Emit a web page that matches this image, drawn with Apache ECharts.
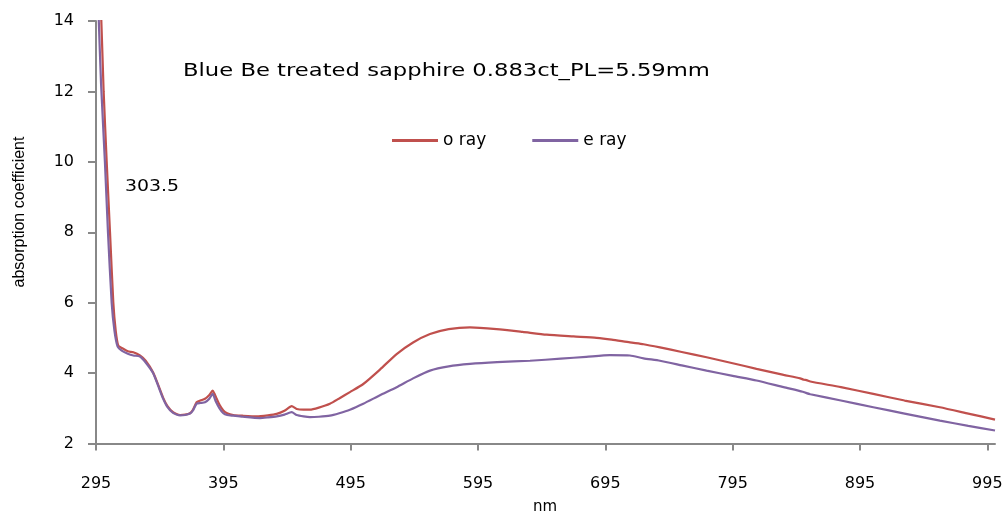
<!DOCTYPE html>
<html>
<head>
<meta charset="utf-8">
<script src="https://cdn.jsdelivr.net/npm/echarts@6/dist/echarts.min.js"></script>
<style>html,body{margin:0;padding:0;background:#fff;}#c{width:1007px;height:516px;}</style>
</head>
<body>
<div id="c"></div>
<script>
const chartTitle = 'Blue Be treated sapphire 0.883ct_PL=5.59mm';
const xAxisName = 'nm';
const yAxisName = 'absorption coefficient';
const xTicks = [295, 395, 495, 595, 695, 795, 895, 995];
const yTicks = [2, 4, 6, 8, 10, 12, 14];
const seriesNames = ['o ray', 'e ray'];
const annotation = '303.5';

const oRayNm = [296,299,301,303.4,306,308.6,310.5,312.5,316,320,324.3,329.5,334,339.8,344,347.6,351,355.5,361,365,368.8,371,374,377,380.6,384,386.6,388,389.8,392,395,398,402.8,410,421.2,430,436.9,443,448.7,452.6,458,463,470,478.7,486,494.4,504.9,518,531.1,544,557.3,572,588.7,609.6,630,648.9,670,688.1,700,714.3,725,737.9,755,774.5,795,813.7,835,848,851,853,856,880,905.4,930,957.7,980,1001];
const oRayValues = [16.5,14.2,12,10,8,6,5.2,4.78,4.7,4.62,4.59,4.5,4.35,4.02,3.65,3.31,3.07,2.89,2.81,2.82,2.86,2.95,3.17,3.22,3.27,3.38,3.5,3.42,3.27,3.1,2.94,2.86,2.81,2.79,2.77,2.8,2.84,2.93,3.06,2.98,2.96,2.96,3.02,3.13,3.28,3.46,3.69,4.1,4.54,4.87,5.11,5.25,5.3,5.25,5.17,5.09,5.04,5.0,4.95,4.87,4.82,4.73,4.6,4.45,4.28,4.12,3.95,3.85,3.81,3.8,3.76,3.6,3.41,3.22,3.03,2.85,2.68];

const eRayNm = [295.5,297,299,302,304.4,307.3,309.5,312,315.2,320,324.3,329.5,334,339.8,344,347.6,351,355.5,361,365,368.8,371,374,377,380.6,384,386.6,389,392,395,398,402.8,410,423.8,430,436.9,443,448.7,452.6,458,463,470,478.7,486,494.4,504.9,518,531.1,544,557.3,572,588.7,610,635.8,660,680,698.5,714.3,725,737.9,755,774.5,795,813.7,835,850,853,856,880,905.4,930,957.7,980,1001];
const eRayValues = [16,14.2,12.2,10,8,6,5.2,4.75,4.64,4.55,4.5,4.47,4.3,4.0,3.62,3.28,3.04,2.87,2.8,2.81,2.85,2.93,3.13,3.15,3.17,3.27,3.41,3.2,3.0,2.86,2.81,2.79,2.76,2.72,2.74,2.77,2.82,2.89,2.81,2.77,2.75,2.76,2.79,2.86,2.96,3.13,3.37,3.6,3.85,4.07,4.19,4.26,4.31,4.35,4.41,4.46,4.51,4.5,4.42,4.35,4.22,4.07,3.92,3.79,3.6,3.47,3.43,3.4,3.22,3.03,2.85,2.65,2.5,2.37];

function pairs(xs, ys) { return xs.map((x, i) => [x, ys[i]]); }

const chart = echarts.init(document.getElementById('c'), null, {renderer: 'canvas'});
const font = 'DejaVu Sans';
chart.setOption({
  animation: false,
  backgroundColor: '#ffffff',
  legend: {
    left: 387, top: 127,
    itemWidth: 46, itemHeight: 3, itemGap: 46,
    icon: 'rect',
    textStyle: {fontFamily: font, fontSize: 17, color: '#000'},
    data: seriesNames
  },
  grid: {left: 96, right: 12, top: 21, bottom: 72.5, containLabel: false},
  xAxis: {
    type: 'value', min: 295, max: 1001,
    splitLine: {show: false},
    axisLine: {lineStyle: {color: '#888', width: 2}},
    axisTick: {show: true, length: 7, lineStyle: {color: '#888', width: 2}, customValues: xTicks},
    axisLabel: {fontFamily: font, fontSize: 16, color: '#000', margin: 22, padding: [10, 0, 0, 0], customValues: xTicks}
  },
  yAxis: {
    type: 'value', min: 2, max: 14, interval: 2,
    splitLine: {show: false},
    axisLine: {show: true, lineStyle: {color: '#888', width: 2}},
    axisTick: {show: true, length: 8, lineStyle: {color: '#888', width: 2}},
    axisLabel: {fontFamily: font, fontSize: 16, color: '#000', margin: 22}
  },
  graphic: [
    {type: 'text', x: 183, y: 71, scaleX: 1.26,
     style: {text: chartTitle, fontFamily: font, fontSize: 18, fill: '#000', align: 'left', verticalAlign: 'middle'}},
    {type: 'text', x: 125, y: 187, scaleX: 1.18,
     style: {text: annotation, fontFamily: font, fontSize: 16, fill: '#000', align: 'left', verticalAlign: 'middle'}},
    {type: 'text', x: 20, y: 212, rotation: Math.PI / 2,
     style: {text: yAxisName, fontFamily: 'Liberation Sans', fontSize: 16, fill: '#000', align: 'center', verticalAlign: 'middle'}},
    {type: 'text', x: 545, y: 507,
     style: {text: xAxisName, fontFamily: font, fontSize: 15, fill: '#000', align: 'center', verticalAlign: 'middle'}}
  ],
  series: [
    {name: seriesNames[0], type: 'line', data: pairs(oRayNm, oRayValues), showSymbol: false,
     smooth: 0.2, clip: true, color: '#C0504D', lineStyle: {width: 2.2, color: '#C0504D'}},
    {name: seriesNames[1], type: 'line', data: pairs(eRayNm, eRayValues), showSymbol: false,
     smooth: 0.2, clip: true, color: '#8064A2', lineStyle: {width: 2.2, color: '#8064A2'}}
  ]
});
</script>
</body>
</html>
